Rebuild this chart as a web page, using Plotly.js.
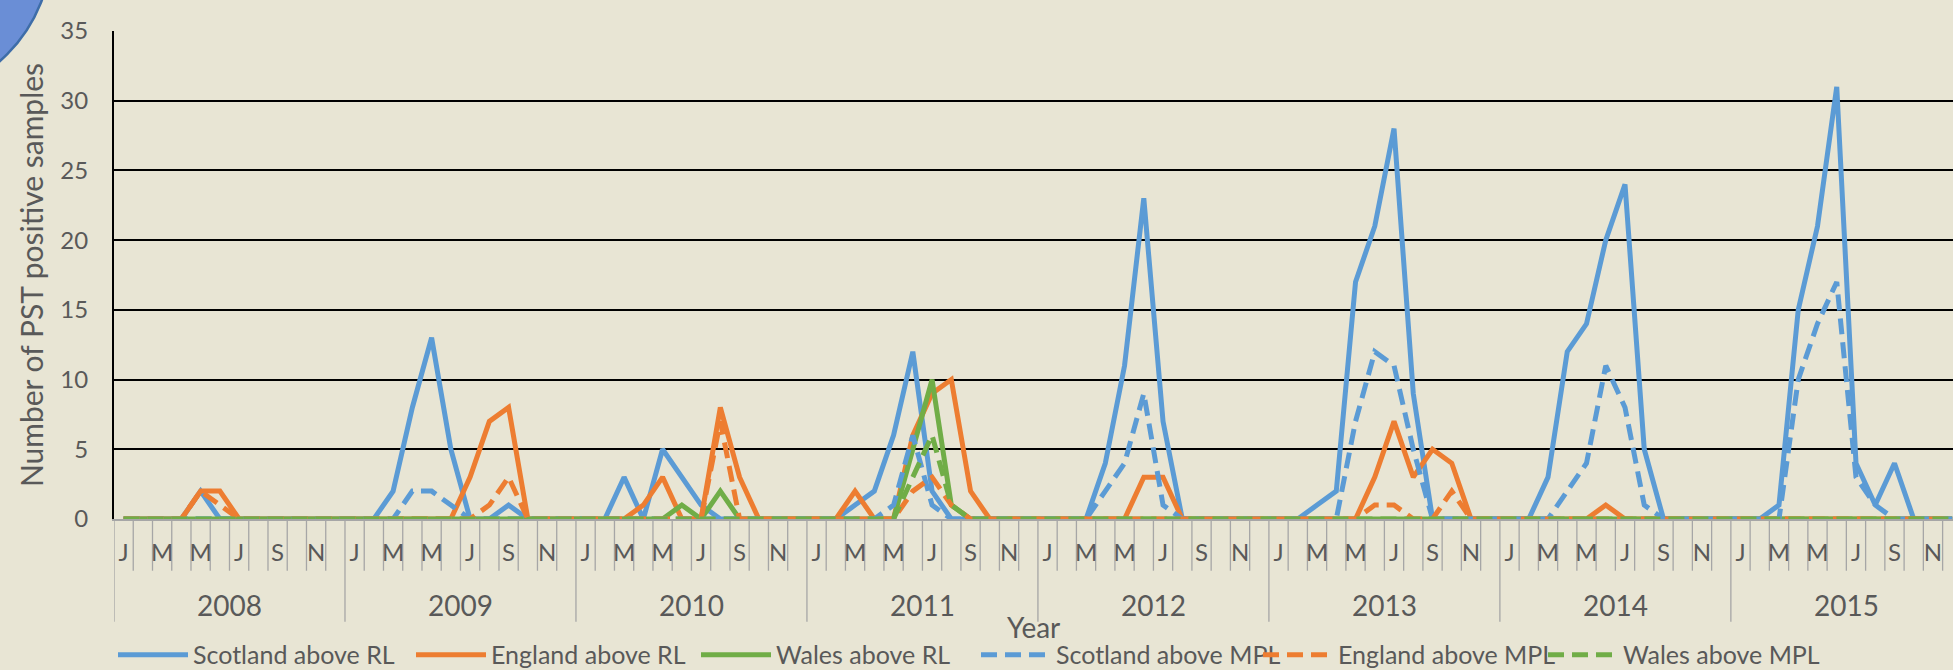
<!DOCTYPE html>
<html>
<head>
<meta charset="utf-8">
<script src="https://cdn.plot.ly/plotly-3.0.1.min.js"></script>
<style>
html,body{margin:0;padding:0;background:#E8E5D4;overflow:hidden}
#chart{width:1953px;height:670px}
</style>
</head>
<body>
<div id="chart"></div>
<script>
// ---- data ----
const years = ['2008','2009','2010','2011','2012','2013','2014','2015'];
const monthNames = ['Jan','Feb','Mar','Apr','May','Jun','Jul','Aug','Sep','Oct','Nov','Dec'];
const monthLetters = ['J','F','M','A','M','J','J','A','S','O','N','D'];
const xAxisTitle = 'Year';
const yAxisTitle = 'Number of PST positive samples';

// values Jan 2008 ... Dec 2015 (12 per year)
const scotlandRL = [
  0,0,0,0,2,0,0,0,0,0,0,0,
  0,0,2,8,13,5,0,0,1,0,0,0,
  0,0,3,0,5,3,1,0,0,0,0,0,
  0,0,1,2,6,12,2,0,0,0,0,0,
  0,0,0,4,11,23,7,0,0,0,0,0,
  0,0,1,2,17,21,28,9,0,0,0,0,
  0,0,3,12,14,20,24,5,0,0,0,0,
  0,0,1,15,21,31,4,1,4,0,0,0
];
const englandRL = [
  0,0,0,0,2,2,0,0,0,0,0,0,
  0,0,0,0,0,0,3,7,8,0,0,0,
  0,0,0,1,3,0,0,8,3,0,0,0,
  0,0,2,0,0,6,9,10,2,0,0,0,
  0,0,0,0,0,3,3,0,0,0,0,0,
  0,0,0,0,0,3,7,3,5,4,0,0,
  0,0,0,0,0,1,0,0,0,0,0,0,
  0,0,0,0,0,0,0,0,0,0,0,0
];
const walesRL = [
  0,0,0,0,0,0,0,0,0,0,0,0,
  0,0,0,0,0,0,0,0,0,0,0,0,
  0,0,0,0,0,1,0,2,0,0,0,0,
  0,0,0,0,0,5,10,1,0,0,0,0,
  0,0,0,0,0,0,0,0,0,0,0,0,
  0,0,0,0,0,0,0,0,0,0,0,0,
  0,0,0,0,0,0,0,0,0,0,0,0,
  0,0,0,0,0,0,0,0,0,0,0,0
];
const scotlandMPL = [
  0,0,0,0,0,0,0,0,0,0,0,0,
  0,0,0,2,2,1,0,0,0,0,0,0,
  0,0,0,0,0,0,0,0,0,0,0,0,
  0,0,0,0,1,6,1,0,0,0,0,0,
  0,0,0,2,4,9,1,0,0,0,0,0,
  0,0,0,0,7,12,11,5,0,0,0,0,
  0,0,0,2,4,11,8,1,0,0,0,0,
  0,0,0,10,14,17,3,1,0,0,0,0
];
const englandMPL = [
  0,0,0,0,2,1,0,0,0,0,0,0,
  0,0,0,0,0,0,0,1,3,0,0,0,
  0,0,0,0,0,0,0,7,0,0,0,0,
  0,0,0,0,0,2,3,1,0,0,0,0,
  0,0,0,0,0,0,0,0,0,0,0,0,
  0,0,0,0,0,1,1,0,0,2,0,0,
  0,0,0,0,0,0,0,0,0,0,0,0,
  0,0,0,0,0,0,0,0,0,0,0,0
];
const walesMPL = [
  0,0,0,0,0,0,0,0,0,0,0,0,
  0,0,0,0,0,0,0,0,0,0,0,0,
  0,0,0,0,0,0,0,0,0,0,0,0,
  0,0,0,0,0,3,6,1,0,0,0,0,
  0,0,0,0,0,0,0,0,0,0,0,0,
  0,0,0,0,0,0,0,0,0,0,0,0,
  0,0,0,0,0,0,0,0,0,0,0,0,
  0,0,0,0,0,0,0,0,0,0,0,0
];
const seriesNames = ['Scotland above RL','England above RL','Wales above RL',
                     'Scotland above MPL','England above MPL','Wales above MPL'];

// ---- build ----
const FONT = 'Lato, "Open Sans", sans-serif';
const TXT = '#595959';
const BLUE = '#5B9BD5', ORANGE = '#ED7D31', GREEN = '#70AD47';

const periods = [];
years.forEach(y => monthNames.forEach(m => periods.push(m + ' ' + y)));

const tickvals = [], ticktext = [];
periods.forEach((p, i) => { if ((i % 12) % 2 === 0) { tickvals.push(p); ticktext.push(monthLetters[i % 12]); } });

const seriesValues = [scotlandRL, englandRL, walesRL, scotlandMPL, englandMPL, walesMPL];
const seriesColors = [BLUE, ORANGE, GREEN, BLUE, ORANGE, GREEN];
const seriesDash = ['solid','solid','solid','16px,8px','16px,8px','16px,8px'];
const legendIds = seriesNames.map((_, k) => k === 0 ? 'legend' : 'legend' + (k + 1));
const legendX = [113, 411, 696, 976, 1258, 1543]; // legend entry left edges, px

const traces = seriesValues.map((vals, k) => ({
  type: 'scatter', mode: 'lines', x: periods, y: vals, name: seriesNames[k],
  legend: legendIds[k],
  line: {color: seriesColors[k], width: 5, dash: seriesDash[k]},
  hoverinfo: 'skip'
}));

const shapes = [];
for (let i = 0; i <= periods.length; i++) {
  const isYear = i % 12 === 0;
  shapes.push({type: 'line', xref: 'x', yref: 'paper', x0: i - 0.5, x1: i - 0.5,
    y0: 0, y1: isYear ? -0.2105 : -0.106, layer: 'below',
    line: {color: '#A6A6A6', width: 1.3}});
}
// decorative circle at top-left
shapes.push({type: 'circle', xref: 'paper', yref: 'paper',
  x0: -0.1973, x1: -0.03415, y0: 0.8625, y1: 1.4773, layer: 'above',
  fillcolor: '#6A8ED6', line: {color: '#3E6DA8', width: 2.5}});

const annotations = years.map((y, k) => ({
  x: k * 12 + 5.5, y: -0.1762, xref: 'x', yref: 'paper', text: y, showarrow: false,
  yanchor: 'middle', xanchor: 'center', font: {family: FONT, size: 28, color: TXT}
}));
// x-axis title (second category level sits between axis and title)
annotations.push({x: 0.5, y: -0.2213, xref: 'paper', yref: 'paper', text: xAxisTitle,
  showarrow: false, xanchor: 'center', yanchor: 'middle',
  font: {family: FONT, size: 28, color: TXT}});

const layout = {
  width: 1953, height: 670,
  margin: {l: 114, r: 0, t: 31, b: 151},
  paper_bgcolor: '#E8E5D4', plot_bgcolor: '#E8E5D4',
  font: {family: FONT, color: TXT},
  showlegend: true,
  xaxis: {type: 'category', range: [-0.5, 95.04], showgrid: false, zeroline: false,
    showline: true, linecolor: '#A6A6A6', linewidth: 1.5, layer: 'below traces',
    ticks: '', tickvals: tickvals, ticktext: ticktext, ticklabelstandoff: 12,
    tickfont: {family: FONT, size: 24, color: TXT},
    fixedrange: true},
  yaxis: {range: [0, 35], tick0: 0, dtick: 5, showgrid: true, gridcolor: '#000000', gridwidth: 2,
    zeroline: false, showline: true, linecolor: '#000000', linewidth: 2, ticks: '',
    ticklabelstandoff: 19, tickfont: {family: FONT, size: 24, color: TXT},
    title: {text: yAxisTitle, font: {family: FONT, size: 30, color: TXT}},
    fixedrange: true},
  shapes: shapes,
  annotations: annotations
};
legendIds.forEach((id, k) => {
  layout[id] = {orientation: 'h', xref: 'container', x: legendX[k] / 1953, xanchor: 'left',
    yref: 'container', y: 0.0224, yanchor: 'middle',
    font: {family: FONT, size: 25, color: TXT}, bgcolor: 'rgba(0,0,0,0)', itemwidth: 70};
});

Plotly.newPlot('chart', traces, layout, {displayModeBar: false, staticPlot: true});
</script>
</body>
</html>
